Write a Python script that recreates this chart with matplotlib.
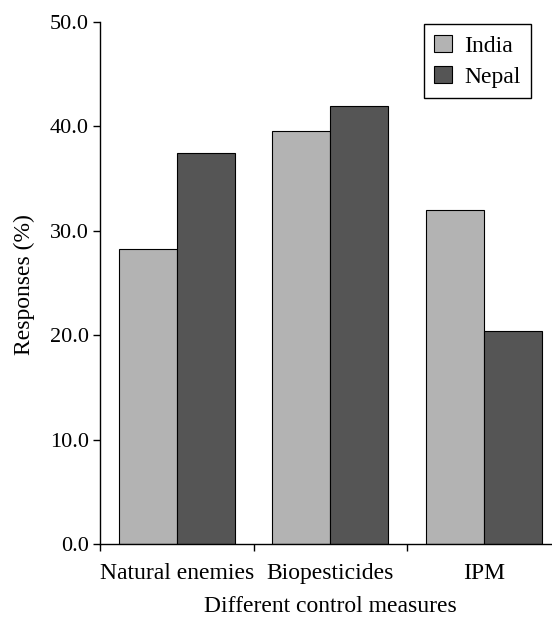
import numpy as np
import matplotlib
matplotlib.use("Agg")
import matplotlib.pyplot as plt

categories = ["Natural enemies", "Biopesticides", "IPM"]
india = [28.3, 39.6, 32.0]
nepal = [37.5, 42.0, 20.4]

plt.rcParams['font.family'] = ['Liberation Serif', 'DejaVu Serif']

fig = plt.figure(figsize=(5.52, 6.17), dpi=100)
ax = fig.add_axes([100/552, 73/617, 460.5/552, 522/617])

x = np.arange(len(categories))
w = 0.378
ax.bar(x - w/2, india, w, color='#b3b3b3', edgecolor='black', linewidth=0.8, label='India')
ax.bar(x + w/2, nepal, w, color='#555555', edgecolor='black', linewidth=0.8, label='Nepal')

ax.set_xlim(-0.5, 2.5)
ax.set_ylim(0, 50)
ax.set_yticks(np.arange(0, 51, 10))
ax.set_yticklabels([f"{v:.1f}" for v in np.arange(0, 51, 10)], fontsize=16)

# ticks at category boundaries, labels at centres
ax.set_xticks([-0.5, 0.5, 1.5, 2.5])
ax.set_xticklabels([])
ax.set_xticks(x, minor=True)
ax.set_xticklabels(categories, minor=True, fontsize=17)
ax.tick_params(axis='x', which='minor', length=0, pad=14)
ax.tick_params(axis='x', which='major', direction='out', length=5, width=1)
ax.tick_params(axis='y', direction='out', length=5, width=1, pad=3)

for s in ['top', 'right']:
    ax.spines[s].set_visible(False)
ax.spines['left'].set_linewidth(1)
ax.spines['bottom'].set_linewidth(1)

ax.set_xlabel("Different control measures", fontsize=17)
ax.xaxis.set_label_coords(0.4995, -0.1)
ax.set_ylabel("Responses (%)", fontsize=17)
ax.yaxis.set_label_coords(-0.141, 0.497)

leg = ax.legend(loc='upper right', bbox_to_anchor=(531/552, 1 - 24/617),
                bbox_transform=fig.transFigure, fontsize=17,
                fancybox=False, edgecolor='black', framealpha=1,
                handlelength=0.75, handleheight=0.75, handletextpad=0.5,
                borderpad=0.45, labelspacing=0.4, borderaxespad=0)
leg.get_frame().set_linewidth(1)

fig.savefig("out.png", dpi=100)
